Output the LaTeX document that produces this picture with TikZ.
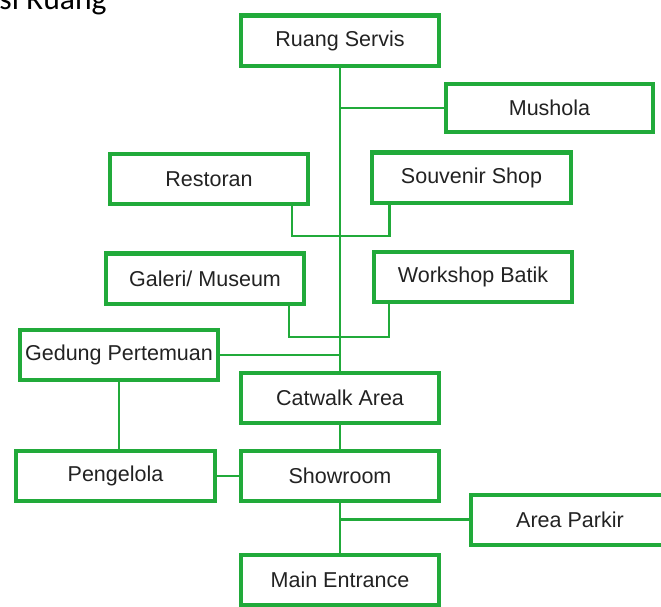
\documentclass[tikz,border=0pt]{standalone}
\usepackage{fontspec}
\setmainfont{Liberation Sans}
\newfontfamily\titlefont{Carlito}
\usepackage{xcolor}
\usepackage{tikz}
\usetikzlibrary{calc}
\definecolor{roomgreen}{RGB}{33,170,58}
\definecolor{roomtext}{RGB}{34,34,34}
\tikzset{
  room/.style={
    draw = roomgreen,
    line width = 2.85pt,
    shape = rectangle,
    minimum width = 4.95cm,
    minimum height = 1.25cm,
    inner sep = 0pt,
    text = roomtext,
    font = \fontsize{15.3}{18}\selectfont
  },
  roomwide/.style={
    room,
    minimum width = 5.175cm,
    minimum height = 1.2cm
  },
  link/.style={
    draw = roomgreen,
    line width = 1.5pt
  }
}

\begin{document}
\begin{tikzpicture}[x=0.025cm,y=-0.025cm]
  \useasboundingbox (0,0) rectangle (661,606);
  \clip (0,0) rectangle (661,606);
  \node[anchor=base east, inner sep=0pt, text=black, font=\titlefont\fontsize{22.5}{26}\selectfont] (title) at (107,9) {Organisasi Ruang};
  \node[room] (servis) at (340,40.5) {Ruang Servis};
  \node[roomwide] (mushola) at (549.5,108) {Mushola};
  \node[room] (restoran) at (209,179) {Restoran};
  \node[room] (souvenir) at (471.5,177.5) {Souvenir Shop};
  \node[room] (galeri) at (205,278.5) {Galeri/ Museum};
  \node[room] (workshop) at (473,277) {Workshop Batik};
  \node[room] (gedung) at (119,355) {Gedung Pertemuan};
  \node[room] (catwalk) at (340,398) {Catwalk Area};
  \node[room] (showroom) at (340,476) {Showroom};
  \node[room] (pengelola) at (115.5,476) {Pengelola};
  \node[room] (parkir) at (570,519.5) {Area Parkir};
  \node[room] (entrance) at (340,580) {Main Entrance};
  %\node[room] (lobby) at (340,520) {Lobby};
  \coordinate (joinA) at (340,236);
  \coordinate (joinB) at (340,337);
  \draw[link] (servis.south) -- (catwalk.north);
  \draw[link] (servis.south |- mushola.west) -- (mushola.west);
  \draw[link] ([xshift=-0.45cm]restoran.south east) |- (joinA) -| ([xshift=0.475cm]souvenir.south west);
  \draw[link] ([xshift=-0.425cm]galeri.south east) |- (joinB) -| ([xshift=0.425cm]workshop.south west);
  \draw[link] (gedung.east) -- (gedung.east -| servis.south);
  \draw[link] (gedung.south) -- (gedung.south |- pengelola.north);
  \draw[link] (pengelola.east) -- (showroom.west);
  \draw[link] (catwalk.south) -- (showroom.north);
  \draw[link] (showroom.south) -- (entrance.north);
  \draw[link] (showroom.south |- parkir.west) -- (parkir.west);
\end{tikzpicture}
\end{document}
